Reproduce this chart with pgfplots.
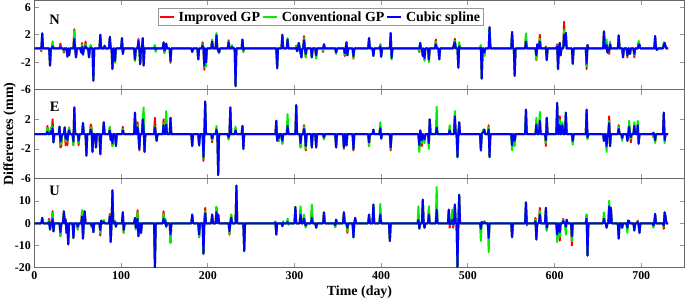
\documentclass[border=0pt]{standalone}
\usepackage{fontspec}
\setmainfont{Liberation Serif}
\usepackage{pgfplots}
\usepackage{pgfplotstable}
\pgfplotsset{compat=1.18}
\definecolor{framegray}{RGB}{105,105,105}
\definecolor{tickgray}{RGB}{150,150,150}
\definecolor{cred}{RGB}{255,0,0}
\definecolor{cgreen}{RGB}{0,240,0}
\definecolor{cblue}{RGB}{0,0,255}

\pgfplotstableread{
x r g b
0 0 0 0
7 0 0 0
8 -0.4 -0.2 0
9 2.2 2.2 2.2
10 0 0 0
17 0 0 0
18 -2.5 -2.5 -2.5
19 0 0 0
20 0 0 0
21 0.6 1.05 0.3
22 0 0 0
29 0 0 0
30 0.7 0.3 0.2
31 0 0 0
33 0 0 0
34 -0.6 -0.4 -0.2
35 0 0 0
37 0 0 0
38 -1.2 -1.2 -1.2
39 0 0 0
40 -1.0 -1.0 -1.0
41 0 0 0
45 0 0 0
46 2.8 2.6 1.4
47 0 0 0
48 -1.3 -1.3 -1.3
49 0 0 0
53 0 0 0
54 -0.6 -0.6 -0.6
55 0.8 0.5 0.2
56 -0.9 -0.9 -0.9
57 0 0 0
58 0 0 0
59 1.0 0.6 0.3
60 0 0 0
62 0 0 0
63 -1.3 -1.3 -1.3
64 0 0 0
65 0.3 0.5 0.1
66 0 0 0
67 0 0 0
68 -4.7 -4.7 -4.7
69 0 0 0
75 0 0 0
76 2.0 2.0 2.0
77 0 0 0
80 0 0 0
81 0.4 0.4 0.4
82 0 0 0
86 0 0 0
87 1.7 1.7 1.7
88 0 0 0
89 0 0 0
90 -3.0 -3.0 -3.0
91 0 0 0
92 0 0 0
93 -2.0 -2.1 -1.8
94 0 0 0
100 0 0 0
101 1.5 1.5 1.5
102 -0.8 -0.8 -0.8
103 0 0 0
115 0 0 0
116 -1.8 -1.8 -1.6
117 0 0 0
119 0 0 0
120 1.4 1.2 1.1
121 0 0 0
122 -2.3 -2.3 -2.3
123 0 0 0
124 0 0 0
125 1.5 1.5 1.5
126 -2.5 -2.5 -2.5
127 0 0 0
138 0 0 0
139 0.4 0.5 0.1
140 -0.4 -0.5 -0.1
141 0 0 0
148 0 0 0
149 0.9 0.9 0.9
150 -0.6 -0.7 -0.3
151 0 0 0
152 0.7 0.7 0.7
153 0 0 0
156 0 0 0
157 -2.1 -1.9 -1.8
158 0 0 0
181 0 0 0
182 -0.5 -0.5 -0.5
183 0 0 0
188 0 0 0
189 -1.6 -1.6 -1.6
190 0 0 0
193 0 0 0
194 0.9 0.6 0.4
195 0 0 0
196 -3.1 -2.7 -2.5
197 0 0 0
198 -2.0 -2.6 -2.0
199 0 0 0
204 0 0 0
205 1.2 1.3 1.0
206 0 0 0
209 0 0 0
210 2.0 2.25 1.9
211 0 0 0
213 -0.6 -0.6 -0.6
214 0 0 0
223 0 0 0
224 1.2 1.0 0.9
225 0 0 0
227 0 0 0
228 0.3 0.5 0.2
229 0 0 0
231 0 0 0
232 -5.5 -5.5 -5.5
233 0 0 0
239 0 0 0
240 1.3 1.3 1.3
241 -0.5 -0.5 -0.2
242 0 0 0
279 0 0 0
280 -2.9 -2.9 -2.9
281 0 0 0
285 0 0 0
286 2.0 2.0 2.0
287 0 0 0
291 0 0 0
292 1.3 1.5 1.3
293 0 0 0
301 0 0 0
302 0.4 0.3 0.1
303 -0.4 -0.4 -0.4
304 0 0 0
305 0.8 0.8 0.8
306 0 0 0
308 -1.3 -1.3 -1.3
309 0 0 0
310 0 0 0
311 1.8 1.5 1.2
312 0 0 0
313 -1.3 -1.3 -0.8
314 0 0 0
319 0 0 0
320 -1.3 -1.3 -1.3
321 0 0 0
324 0 0 0
325 -1.3 -1.5 -1.0
326 0 0 0
332 0 0 0
333 -0.5 -0.3 0
334 0.6 0.6 0.6
335 0 0 0
347 0 0 0
348 -0.6 -0.8 -0.6
349 0 0 0
357 0 0 0
358 -1.1 -0.9 -0.7
359 0 0 0
360 0.9 0.9 0.9
361 -1.0 -1.0 -1.0
362 0 0 0
367 0 0 0
368 -1.5 -1.4 -1.1
369 0 0 0
385 0 0 0
386 1.5 1.5 1.5
387 0 0 0
390 0 0 0
391 -1.1 -1.1 -1.1
392 0 0 0
398 0 0 0
399 0.6 0.6 0.3
400 -1.2 -1.2 -1.2
401 0 0 0
410 0 0 0
411 2.25 2.25 2.25
412 -1.4 -1.6 -1.4
413 0 0 0
443 0 0 0
444 -0.5 -0.3 0
445 0.8 0.8 0.8
446 0 0 0
447 0 0 0
448 -1.1 -1.1 -1.1
449 0 0 0
450 -1.6 -1.8 -1.4
451 0 0 0
454 0 0 0
455 -1.8 -2.0 -1.6
456 0 0 0
462 0 0 0
463 1.3 1.0 0.6
464 0 0 0
466 0 0 0
467 -1.6 -1.6 -1.6
468 0 0 0
483 0 0 0
484 0.6 0.6 0.6
485 1.4 1.1 0.9
486 0 0 0
488 0 0 0
489 -2.8 -2.8 -2.8
490 0.7 0.9 0.3
491 0 0 0
514 0 0 0
515 0.4 0.5 0.1
516 -4.4 -4.4 -4.4
517 0 0 0
518 0 0 0
519 -1.0 -1.1 -0.6
520 0 0 0
524 0 0 0
525 3.1 3.1 3.1
526 0 0 0
550 0 0 0
551 2.4 2.4 2.4
552 0 0 0
553 0 0 0
554 -4.0 -4.0 -4.0
555 0 0 0
566 0 0 0
567 1.8 2.2 1.0
568 0 0 0
578 0 0 0
579 -1.7 -1.6 -1.0
580 0.6 0.6 0.6
581 0 0 0
582 0 0 0
583 2.0 1.4 1.0
584 0 0 0
589 0 0 0
590 0.3 0.2 0.1
591 -1.7 -1.7 -1.7
592 0 0 0
602 0 0 0
603 0.6 0.4 0.3
604 -3.0 -3.0 -3.0
605 0 0 0
606 0.8 0.8 0.8
607 -1.0 -1.0 -1.0
608 0 0 0
610 0 0 0
611 3.9 2.7 2.0
612 0.5 0.5 0.5
613 2.25 2.25 2.25
614 0 0 0
620 0 0 0
621 -2.3 -2.3 -2.2
622 0 0 0
636 0 0 0
637 -3.0 -2.6 -2.2
638 0.5 0.5 0.5
639 0 0 0
656 0 0 0
657 2.5 2.5 2.5
658 0 0 0
659 0 0 0
660 0.8 1.3 0.5
661 -0.6 -0.6 -0.6
662 0 0 0
663 -0.8 -0.3 -0.3
664 0.8 1.0 0.6
665 0 0 0
673 0 0 0
674 1.9 1.9 1.9
675 0 0 0
678 0 0 0
679 -1.3 -1.3 -1.3
680 0 0 0
683 0 0 0
684 -1.3 -1.0 -1.0
685 0 0 0
686 0 0 0
687 -0.8 -0.8 -0.8
688 0 0 0
691 0 0 0
692 -1.3 -1.0 -0.8
693 0 0 0
696 0 0 0
697 0.8 1.1 0.6
698 0.5 0.6 0.5
699 0 0 0
715 0 0 0
716 1.8 1.8 1.8
717 0 0 0
718 -0.2 -0.2 -0.2
719 0 0 0
725 0 0 0
726 0.6 0.9 0.5
727 0.8 0.8 0.8
728 0.3 0.3 0.3
729 0 0 0
731 0 0 0
}\dataN

\pgfplotstableread{
x r g b
0 0 0 0
14 0 0 0
15 1.1 0.8 0.3
16 0 0 0
18 0 0 0
19 0.6 0.9 0.4
20 0 0 0
21 2.0 1.0 0.8
22 -1.1 -1.1 -1.1
23 0 0 0
28 0 0 0
29 1.0 1.0 1.0
30 -1.8 -1.4 -1.0
31 -1.6 -1.2 -0.6
32 0 0 0
34 0 0 0
35 0.9 0.9 0.9
36 -1.5 -1.0 -0.6
37 0 0 0
38 -1.5 -1.0 -0.8
39 0 0 0
40 0.9 0.9 0.5
41 0 0 0
44 0 0 0
45 -1.5 -1.5 -1.0
46 3.6 3.6 3.6
47 0 0 0
50 0 0 0
51 -1.5 -1.2 -0.9
52 0 0 0
55 0 0 0
56 1.5 1.5 1.5
57 0 0 0
59 0 0 0
60 -2.9 -2.9 -2.9
61 0 0 0
64 0 0 0
65 1.3 0.9 0.6
66 0.8 0.6 0.3
67 -2.4 -2.4 -2.4
68 0 0 0
70 0 0 0
71 -1.8 -1.8 -1.8
72 0 0 0
75 0 0 0
76 -2.7 -2.7 -2.7
77 0 0 0
79 0 0 0
80 1.6 1.6 1.6
81 0 0 0
86 0 0 0
87 0.9 1.0 0.5
88 -0.8 -0.8 -0.8
89 0 0 0
90 -1.6 -1.6 -1.2
91 0 0 0
93 0 0 0
94 -1.6 -1.6 -1.6
95 0 0 0
101 0 0 0
102 1.0 0.7 0.5
103 0 0 0
115 0 0 0
116 2.9 2.9 2.9
117 0 0 0
118 0 0 0
119 1.6 1.2 0.9
120 0 0 0
121 -2.2 -2.0 -2.0
122 0 0 0
124 0 0 0
125 2.0 2.0 2.0
126 1.0 3.6 0.8
127 -2.4 -2.4 -2.4
128 0 0 0
138 0 0 0
139 2.2 1.0 0.9
140 0 0 0
141 -0.9 -0.9 -0.9
142 0 0 0
148 0 0 0
149 2.0 1.5 1.2
150 0 0 0
151 0 0 0
152 2.0 3.1 1.3
153 0 0 0
156 0 0 0
157 2.2 2.2 2.2
158 0 0 0
181 0 0 0
182 -1.6 -1.6 -1.6
183 0 0 0
189 0 0 0
190 -1.5 -1.6 -1.5
191 0 0 0
194 0 0 0
195 -3.6 -3.3 -3.1
196 0 0 0
197 4.4 4.4 4.4
198 0 0 0
204 0 0 0
205 -1.1 -0.8 -0.6
206 0 0 0
209 0 0 0
210 0.6 1.1 0.6
211 0 0 0
212 -5.5 -5.5 -5.5
213 0 0 0
223 0 0 0
224 -0.7 -0.7 -0.4
225 0 0 0
226 3.6 3.6 3.6
227 0 0 0
231 0 0 0
232 0.8 1.0 0.5
233 0 0 0
239 0 0 0
240 1.1 1.1 1.1
241 -2.0 -2.0 -2.0
242 0 0 0
278 0 0 0
279 1.8 1.8 1.8
280 -0.9 -0.9 -0.9
281 0 0 0
282 -0.9 -0.9 -0.5
283 0 0 0
285 0 0 0
286 -1.3 -1.3 -0.9
287 0 0 0
291 0 0 0
292 1.5 2.7 1.1
293 0 0 0
301 0 0 0
302 3.9 3.9 3.9
303 0 0 0
306 0 0 0
307 -1.8 -1.8 -1.2
308 0 0 0
310 0 0 0
311 1.2 1.0 0.7
312 0 0 0
313 -2.2 -2.0 -1.6
314 0 0 0
319 0 0 0
320 -1.8 -1.8 -1.8
321 0 0 0
324 0 0 0
325 -1.8 -1.8 -1.8
326 0 0 0
333 0 0 0
334 -0.7 -0.7 -0.4
335 0 0 0
347 0 0 0
348 -1.8 -1.8 -1.8
349 0 0 0
356 0 0 0
357 -2.0 -1.9 -1.8
358 0 0 0
359 0 0 0
360 -1.5 -1.5 -1.5
361 0 0 0
367 0 0 0
368 -2.2 -2.0 -2.0
369 0 0 0
385 0 0 0
386 -1.6 -1.6 -1.1
387 0 0 0
390 0 0 0
391 0.6 0.6 0.6
392 0 0 0
398 0 0 0
399 1.1 1.6 0.8
400 -0.6 -0.6 -0.6
401 0 0 0
410 0 0 0
411 -2.2 -2.0 -1.8
412 0 0 0
443 0 0 0
444 -1.9 -2.4 -1.5
445 0.5 0.5 0.5
446 0 0 0
447 -1.6 -1.2 -0.8
448 0 0 0
450 -0.7 -1.2 -0.7
451 0 0 0
454 0 0 0
455 -1.5 -2.0 -1.2
456 2.0 2.0 2.0
457 0 0 0
463 0 0 0
464 1.0 3.7 0.9
465 0 0 0
478 0 0 0
479 0.8 1.2 0.5
480 0 0 0
484 0 0 0
485 2.4 3.1 2.4
486 0 0 0
487 0 0 0
488 -3.1 -3.1 -3.1
489 0 0 0
490 1.6 1.6 1.6
491 0 0 0
514 0 0 0
515 -2.2 -2.2 -2.2
516 0 0 0
517 0.2 0.2 0.2
518 0.6 0.6 0.3
519 0.6 0.6 0.6
520 0 0 0
523 0 0 0
524 1.2 0.9 0.6
525 -3.1 -3.1 -3.1
526 0 0 0
550 0 0 0
551 -1.5 -2.2 -1.5
552 0 0 0
553 0 0 0
554 -1.1 -1.6 -0.9
555 0 0 0
566 0 0 0
567 3.3 3.3 3.3
568 0 0 0
578 0 0 0
579 1.5 2.2 1.3
580 0 0 0
582 0 0 0
583 2.2 3.0 1.8
584 0 0 0
589 0 0 0
590 -1.6 -1.2 -0.8
591 2.2 2.2 2.2
592 0 0 0
602 0 0 0
603 4.2 4.2 4.2
604 0 0 0
605 0 0 0
606 2.4 1.9 1.2
607 0 0 0
608 0 0 0
609 1.4 1.6 1.2
610 0 0 0
612 0 0 0
613 2.9 2.9 2.9
614 0 0 0
620 0 0 0
621 -1.2 -1.4 -0.9
622 0 0 0
636 0 0 0
637 3.3 3.3 3.3
638 -0.6 -0.7 -0.4
639 0 0 0
656 0 0 0
657 -0.9 -0.9 -0.9
658 0 0 0
659 0 0 0
660 -1.8 -2.4 -1.6
661 0 0 0
662 0 0 0
663 2.4 1.8 1.5
664 -1.6 -1.6 -1.6
665 0 0 0
673 0 0 0
674 1.2 1.0 0.7
675 0 0 0
677 0 0 0
678 -0.6 -0.9 -0.5
679 0 0 0
683 0 0 0
684 -0.9 -0.9 -0.9
685 0 0 0
686 1.4 1.8 1.0
687 0 0 0
688 -1.1 -0.6 -0.4
689 0 0 0
691 0 0 0
692 1.3 1.6 1.1
693 0 0 0
695 0 0 0
696 1.4 1.8 1.2
697 -1.3 -1.3 -1.3
698 0 0 0
713 0 0 0
714 -0.4 -0.3 0.2
715 0 0 0
716 -1.0 -1.2 -0.8
717 0 0 0
725 0 0 0
726 2.9 2.9 2.9
727 -1.0 -1.2 -0.8
728 0 0 0
731 0 0 0
}\dataE

\pgfplotstableread{
x r g b
0 0 0 0
8 0 0 0
9 2.4 2.4 2.4
10 0 0 0
16 0 0 0
17 2.0 1.2 0.5
18 -2.8 -2.8 -2.8
19 0 0 0
20 0 0 0
21 5.4 4.6 2.0
22 -3.6 -3.6 -3.6
23 0 0 0
29 0 0 0
30 -5.8 -5.8 -4.0
31 0 0 0
33 0 0 0
34 5.4 5.4 5.4
35 0 0 0
36 1.8 1.8 1.8
37 -4.3 -4.3 -4.3
38 0 0 0
39 -9.5 -9.5 -9.5
40 0 0 0
44 0 0 0
45 -6.6 -6.6 -6.6
46 0 0 0
49 0 0 0
50 -2.8 -2.8 -1.5
51 0 0 0
54 0 0 0
55 5.8 5.8 3.0
56 -6.9 -6.9 -6.9
57 0 0 0
58 5.4 5.4 5.4
59 0 0 0
65 0 0 0
66 -1.8 -1.8 -1.0
67 0 0 0
68 -4.0 -4.0 -4.0
69 0 0 0
75 0 0 0
76 -5.5 -4.5 -3.0
77 1.2 1.2 1.2
78 0 0 0
79 0 0 0
80 0.9 1.5 0.6
81 0 0 0
86 0 0 0
87 4.2 3.5 3.1
88 -8.4 -8.4 -8.4
89 0 0 0
90 14.8 14.8 14.8
91 0 0 0
92 0 0 0
93 1.0 1.2 0.5
94 -1.5 -1.5 -1.5
95 0 0 0
101 0 0 0
102 4.9 4.9 4.9
103 -4.3 -4.3 -3.0
104 0 0 0
115 0 0 0
116 2.4 2.4 2.4
117 -2.8 -2.8 -2.0
118 0 0 0
119 5.8 4.8 2.0
120 -5.8 -5.8 -5.8
121 0 0 0
122 0 0 0
123 -4.3 -4.3 -4.3
124 0 0 0
138 0 0 0
139 -20 -20 -20
140 0 0 0
148 0 0 0
149 5.4 4.2 2.1
150 0 0 0
151 1.5 2.0 1.2
152 -1.5 -1.5 -1.5
153 0 0 0
156 0 0 0
157 -8.8 -8.8 -5.0
158 0 0 0
181 0 0 0
182 3.9 3.9 3.9
183 0 0 0
189 0 0 0
190 -6.3 -6.3 -5.0
191 0 0 0
194 0 0 0
195 -13.7 -13.7 -13.7
196 0 0 0
197 6.9 5.5 4.5
198 0 0 0
204 0 0 0
205 3.9 3.9 3.9
206 0 0 0
209 0 0 0
210 7.3 7.3 5.0
211 0 0 0
212 3.9 3.9 3.9
213 0 0 0
224 0 0 0
225 -5.1 -4.5 -3.5
226 0 0 0
227 3.9 3.9 2.5
228 0 0 0
232 0 0 0
233 16.9 16.9 16.9
234 0 0 0
241 0 0 0
242 -12.5 -12.5 -12.5
243 0 0 0
277 0 0 0
278 0.8 0.5 0.2
279 -5.1 -5.1 -5.1
280 0 0 0
285 0 0 0
286 -1.3 -1.3 -1.3
287 0.4 0.9 0.2
288 0 0 0
291 0 0 0
292 0.6 2.1 0.5
293 -0.6 -0.3 -0.2
294 0 0 0
300 0 0 0
301 7.3 7.3 7.3
302 0 0 0
306 0 0 0
307 6.0 7.6 3.9
308 0 0 0
310 0 0 0
311 3.0 3.9 2.0
312 0 0 0
313 -1.8 -1.8 -1.0
314 0 0 0
319 0 0 0
320 6.0 8.4 2.4
321 0 0 0
324 0 0 0
325 -2.0 -2.0 -2.0
326 0 0 0
333 0 0 0
334 4.9 4.9 4.9
335 0 0 0
346 0 0 0
347 -1.8 -1.8 -0.8
348 1.6 1.6 1.6
349 0 0 0
356 0 0 0
357 4.9 4.9 4.9
358 0 0 0
360 0 0 0
361 -4.3 -3.5 -2.0
362 0 0 0
367 0 0 0
368 -6.3 -6.3 -6.3
369 0 0 0
370 2.4 2.4 2.4
371 0 0 0
385 0 0 0
386 3.9 3.9 3.9
387 0 0 0
390 0 0 0
391 8.4 8.4 8.4
392 0 0 0
398 0 0 0
399 5.0 8.7 3.9
400 0 0 0
409 0 0 0
410 -8.0 -8.0 -8.0
411 0 0 0
442 0 0 0
443 4.0 7.6 1.5
444 -2.4 -2.4 -2.4
445 0 0 0
447 0 0 0
448 10.6 10.6 10.6
449 0 0 0
450 -2.0 -2.0 -2.0
451 0 0 0
454 0 0 0
455 6.0 7.6 3.9
456 0 0 0
463 0 0 0
464 7.0 16.3 6.1
465 0 0 0
477 0 0 0
478 6.1 6.1 6.1
479 -2.0 -1.0 -0.5
480 0 0 0
481 0 0 0
482 3.0 6.1 1.5
483 -2.0 -1.0 -0.5
484 0 0 0
485 8.4 8.4 8.4
486 0 0 0
487 0 0 0
488 -19.7 -19.7 -19.7
489 0 0 0
490 12.8 12.8 12.8
491 0 0 0
514 0 0 0
515 -2.5 -8.0 -2.5
516 0.6 0.6 0.6
517 0 0 0
518 0 0 0
519 0.9 0.9 0.4
520 0 0 0
523 0 0 0
524 -6.6 -13.0 -6.6
525 0 0 0
550 0 0 0
551 -6.3 -6.3 -6.3
552 0 0 0
566 0 0 0
567 9.4 9.4 9.4
568 -0.9 -0.6 -0.3
569 0 0 0
577 0 0 0
578 2.4 1.5 0.8
579 -7.3 -7.3 -7.3
580 0 0 0
582 0 0 0
583 6.9 5.5 3.9
584 0 0 0
589 0 0 0
590 6.9 6.9 6.9
591 -3.3 -3.3 -2.0
592 0 0 0
602 0 0 0
603 -6.0 -8.4 -5.0
604 0 0 0
605 0 0 0
606 -7.8 -6.0 -4.0
607 0 0 0
609 0 0 0
610 2.0 1.5 1.0
611 0 0 0
612 0 0 0
613 -2.0 -5.1 -1.5
614 1.6 1.6 1.6
615 0 0 0
619 0 0 0
620 -10.0 -8.0 -5.8
621 0 0 0
636 0 0 0
637 3.9 3.9 2.0
638 -14.5 -14.5 -14.5
639 0 0 0
656 0 0 0
657 3.0 4.9 2.0
658 0 0 0
659 0 0 0
660 -2.0 -2.0 -2.0
661 0 0 0
662 0 0 0
663 8.0 10.1 7.6
664 0 0 0
665 6.9 6.9 6.9
666 0 0 0
673 0 0 0
674 -6.9 -6.9 -6.9
675 0 0 0
677 0 0 0
678 -2.0 -2.0 -2.0
679 0 0 0
683 0 0 0
684 -2.5 -4.3 -2.0
685 1.2 1.2 1.2
686 0.8 0.8 0.8
687 0 0 0
691 0 0 0
692 -2.5 -3.3 -3.3
693 0 0 0
695 0 0 0
696 1.2 1.0 0.6
697 -1.0 -1.0 -1.0
698 -4.3 -4.3 -4.3
699 0 0 0
713 0 0 0
714 -1.0 -2.0 -1.0
715 0 0 0
716 4.2 4.2 4.2
717 0 0 0
725 0 0 0
726 -2.5 -1.5 -1.0
727 4.9 4.9 4.9
728 3.0 3.0 3.0
729 0 0 0
731 0 0 0
}\dataU

\tikzset{plet/.style={font=\fontsize{14.5}{16}\selectfont\bfseries}}
\pgfplotsset{
  panel/.style={
    scale only axis, width=653pt, height=89.5pt,
    xmin=0, xmax=750, xtick={0,100,...,700},
    xtick pos=both, ytick pos=both, tick align=inside,
    axis line style={framegray, line width=0.8pt},
    major tick style={tickgray, line width=0.8pt},
    major tick length=5pt,
    tick label style={font=\fontsize{12}{14}\selectfont\bfseries},
    /pgf/number format/assume math mode=true,
    label style={font=\fontsize{14}{16}\selectfont\bfseries},
    every axis plot/.append style={line width=2pt, line join=round},
  },
}

\begin{document}
\begin{tikzpicture}
\begin{axis}[panel, name=pN, ymin=-6, ymax=7, ytick={-6,-2,2,6},
  xticklabels={},
  legend columns=3,
  legend style={at={(rel axis cs:0.44,0.915)}, anchor=north,
    draw=tickgray, line width=0.8pt, inner sep=1pt,
    font=\fontsize{14}{16}\selectfont\bfseries,
    /tikz/every odd column/.append style={column sep=2pt},
    /tikz/every even column/.append style={column sep=0pt}},
  legend image code/.code={\draw[line width=1.8pt] (0pt,0pt) -- (14pt,0pt);},
]
\addplot[cred] table[x=x, y=r] {\dataN};
\addlegendentry{Improved GP}
\addplot[cgreen] table[x=x, y=g] {\dataN};
\addlegendentry{Conventional GP}
\addplot[cblue] table[x=x, y=b] {\dataN};
\addlegendentry{Cubic spline}
\node[plet] at (rel axis cs:0.031,0.78) {N};
\end{axis}

\begin{axis}[panel, name=pE, at={(pN.south west)}, anchor=north west,
  ymin=-6, ymax=6, ytick={-6,-2,2}, xticklabels={},
  ylabel={Differences (mm)}, ylabel shift=-2pt]
\addplot[cred] table[x=x, y=r] {\dataE};
\addplot[cgreen] table[x=x, y=g] {\dataE};
\addplot[cblue] table[x=x, y=b] {\dataE};
\node[plet] at (rel axis cs:0.031,0.81) {E};
\end{axis}

\begin{axis}[panel, name=pU, at={(pE.south west)}, anchor=north west,
  ymin=-20, ymax=20, ytick={-20,-10,0,10},
  xlabel={Time (day)}, xlabel shift=0pt]
\addplot[cred] table[x=x, y=r] {\dataU};
\addplot[cgreen] table[x=x, y=g] {\dataU};
\addplot[cblue] table[x=x, y=b] {\dataU};
\node[plet] at (rel axis cs:0.031,0.86) {U};
\end{axis}
\end{tikzpicture}
\end{document}
